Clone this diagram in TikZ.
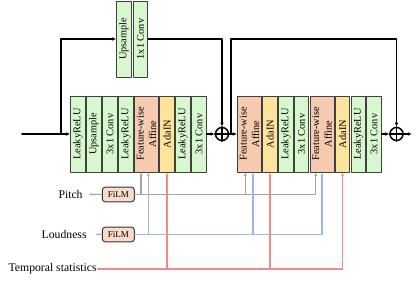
\documentclass[tikz,border=0pt]{standalone}
\usepackage{fontspec}
\setmainfont{Liberation Serif}
\usetikzlibrary{arrows.meta}

\definecolor{convgreen}{HTML}{D7F7CF}
\definecolor{affineorange}{HTML}{F6CAAF}
\definecolor{adayellow}{HTML}{FDE49C}
\definecolor{filmfill}{HTML}{F9DCCB}
\definecolor{pitchgray}{HTML}{A4A4A4}
\definecolor{loudblue}{HTML}{9DB6EA}
\definecolor{tempred}{HTML}{F78888}

\tikzset{
  blk/.style={draw=black!75, line width=0.8pt, rotate=90, inner sep=0pt,
    minimum width=2.28cm, minimum height=0.44cm, align=center,
    font=\fontsize{8.8}{10.5}\selectfont},
  gblk/.style={blk, fill=convgreen},
  oblk/.style={blk, fill=affineorange, minimum height=0.72cm},
  yblk/.style={blk, fill=adayellow},
  addnode/.style={draw, circle, line width=1.3pt, minimum size=0.39cm, inner sep=0pt},
  film/.style={draw=black!80, line width=0.8pt, fill=filmfill, rounded corners=2.5pt,
    minimum width=0.96cm, minimum height=0.44cm, inner sep=0pt,
    font=\fontsize{7.7}{9}\selectfont},
  lbl/.style={inner sep=1pt, anchor=east, font=\fontsize{10}{12}\selectfont},
  main/.style={line width=1.4pt, -{Latex[length=3.6pt,width=3.2pt]}},
  cond/.style={line width=1.1pt, -{Latex[length=3pt,width=2.6pt]}},
}

\begin{document}
\begin{tikzpicture}[x=0.03cm,y=-0.03cm,line cap=round,line join=round]
  \useasboundingbox (0,0) rectangle (417,283);
  % upsampling shortcut
  \node[gblk] (up) at (124,39) {Upsample};
  \node[gblk] (skipconv) at (140.5,39) {1x1 Conv};
  % first block
  \node[gblk] (lreluA) at (78,134) {LeakyReLU};
  \node[gblk] (upA) at (94,134) {Upsample};
  \node[gblk] (convA) at (110,134) {3x1 Conv};
  \node[gblk] (lreluB) at (126,134) {LeakyReLU};
  \node[oblk] (affA) at (146.5,134) {Feature-wise\\Affine};
  \node[yblk] (adaA) at (167,134) {AdaIN};
  \node[gblk] (lreluC) at (183,134) {LeakyReLU};
  \node[gblk] (convB) at (199,134) {3x1 Conv};
  % second block
  \node[oblk] (affB) at (249.5,134) {Feature-wise\\Affine};
  \node[yblk] (adaB) at (270,134) {AdaIN};
  \node[gblk] (lreluD) at (286,134) {LeakyReLU};
  \node[gblk] (convC) at (301.5,134) {3x1 Conv};
  \node[oblk] (affC) at (322,134) {Feature-wise\\Affine};
  \node[yblk] (adaC) at (342.5,134) {AdaIN};
  \node[gblk] (lreluE) at (358.5,134) {LeakyReLU};
  \node[gblk] (convD) at (374,134) {3x1 Conv};
  \node[addnode] (addA) at (222,134) {};
  \node[addnode] (addB) at (396.5,134) {};
  \draw[line width=1.3pt] (addA.north) -- (addA.south) (addA.west) -- (addA.east);
  \draw[line width=1.3pt] (addB.north) -- (addB.south) (addB.west) -- (addB.east);
  \coordinate (in) at (22,134);
  \coordinate (out) at (412,134);
  \coordinate (splitA) at (61,134);
  \coordinate (splitB) at (231,134);
  \draw[main] (in) -- (lreluA);
  \draw[main] (splitA) |- (up);
  \draw[main] (skipconv) -| (addA);
  \draw[main] (convB) -- (addA);
  \draw[main] (addA) -- (affB);
  \draw[main] (splitB) -- (splitB |- up) -| (addB);
  \draw[main] (convD) -- (addB);
  \draw[main] (addB) -- (out);
  % conditioning
  \node[lbl] (pitch) at (84,194.3) {Pitch};
  \node[film] (filmP) at (118.3,194.5) {FiLM};
  \node[lbl] (loud) at (88,234) {Loudness};
  \node[film] (filmL) at (118.3,234.5) {FiLM};
  \node[lbl] (temp) at (98,269) {Temporal statistics};
  \draw[line width=1.1pt, pitchgray, shorten <=5pt] (pitch) -- (filmP);
  \draw[line width=1.1pt, loudblue, shorten <=7pt] (loud) -- (filmL);
  \draw[cond, pitchgray] (filmP) -| ([xshift=-4.6pt]affA.west);
  \draw[cond, pitchgray] (filmP) -| ([xshift=-3.6pt]affB.west);
  \draw[cond, pitchgray] (filmP) -| ([xshift=-5.4pt]affC.west);
  \draw[cond, loudblue] (filmL) -| ([xshift=1.5pt]affA.west);
  \draw[cond, loudblue] (filmL) -| ([xshift=3pt]affB.west);
  \draw[cond, loudblue] (filmL) -| ([xshift=0pt]affC.west);
  \draw[cond, tempred] (temp) -| (adaA.west);
  \draw[cond, tempred] (temp) -| (adaB.west);
  \draw[cond, tempred] (temp) -| (adaC.west);
\end{tikzpicture}
\end{document}
